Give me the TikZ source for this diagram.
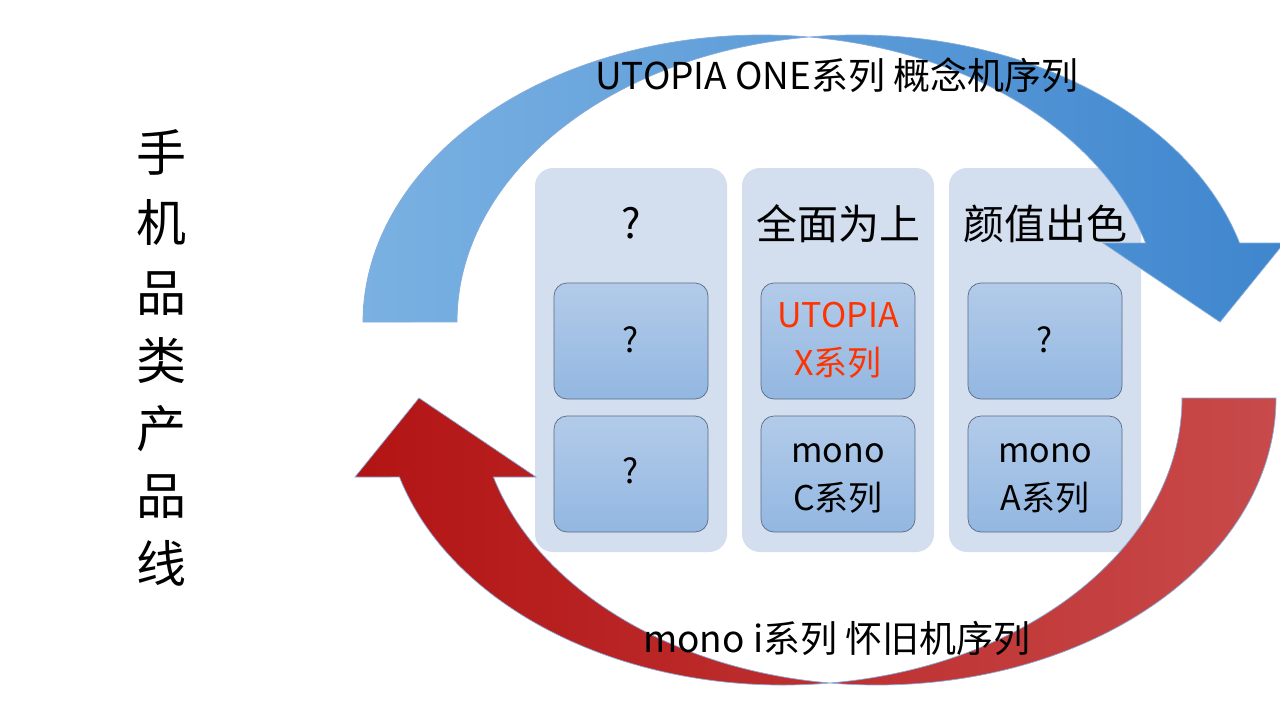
\documentclass[tikz,border=0pt]{standalone}
\usepackage{fontspec}
\setmainfont{Noto Sans CJK SC}
\definecolor{colbg}{HTML}{D3DEEF}
\definecolor{itemtop}{HTML}{B2CBE9}
\definecolor{itembot}{HTML}{93B7E1}
\definecolor{boxedge}{HTML}{5B6C84}
\definecolor{bluel}{HTML}{7AB1E2}
\definecolor{bluer}{HTML}{3F86CE}
\definecolor{redl}{HTML}{B31414}
\definecolor{redm}{HTML}{D02A2A}
\definecolor{redr}{HTML}{C84A4A}
\definecolor{arrowedge}{HTML}{86ACDB}
\definecolor{hot}{HTML}{FF3300}
\tikzset{
  colbox/.style={fill=colbg, rounded corners=18pt, minimum width=192pt, minimum height=384pt, inner sep=0pt},
  itembox/.style={draw=boxedge, line width=0.7pt, top color=itemtop, bottom color=itembot, rounded corners=13pt, minimum width=154pt, minimum height=116pt, inner sep=0pt},
  lbl/.style={anchor=base, inner sep=0pt, text=black},
  titletext/.style={lbl, font=\fontsize{37}{44}\selectfont},
  headtext/.style={lbl, font=\fontsize{41}{48}\selectfont},
  itemtext/.style={lbl, font=\fontsize{34}{40}\selectfont},
  verttext/.style={lbl, font=\fontsize{50}{60}\selectfont},
  arrowedge/.style={draw=arrowedge, line width=0.7pt},
}
\newcommand{\curvedarrowpath}{%
  (363,322) arc[start angle=180, end angle=276.765, x radius=399, y radius=287]
  arc[start angle=263.235, end angle=344.023, x radius=399, y radius=287]
  -- (1284,243) -- (1220,322) -- (1103,243) -- (1145.6,243)
  arc[start angle=344.023, end angle=276.765, x radius=399, y radius=287]
  arc[start angle=263.235, end angle=180, x radius=399, y radius=287]
  -- cycle}
\begin{document}
\begin{tikzpicture}[x=1pt,y=-1pt]
\useasboundingbox[fill=white] (0,0) rectangle (1280,720);

% columns
\node[colbox] (c1) at (631,360) {};
\node[colbox] (c2) at (838,360) {};
\node[colbox] (c3) at (1045,360) {};

% item boxes
\node[itembox] (b11) at (631,341) {};
\node[itembox] (b12) at (631,474) {};
\node[itembox] (b21) at (838,341) {};
\node[itembox] (b22) at (838,474) {};
\node[itembox] (b31) at (1045,341) {};
\node[itembox] (b32) at (1045,474) {};

% blue arrow
\path[arrowedge, left color=bluel, right color=bluer] \curvedarrowpath;
% red arrow (rotated copy)
\begin{scope}[rotate around={180:(819.5,360)}]
\path[arrowedge, left color=redl, middle color=redm, right color=redr] \curvedarrowpath;
\end{scope}

% headers
\node[headtext] (h1) at (631,238) {?};
\node[headtext] (h2) at (838,239) {全面为上};
\node[headtext] (h3) at (1045,239) {颜值出色};

% item texts
\node[itemtext] (t11) at (631,352) {?};
\node[itemtext] (t12) at (631,483) {?};
\node[itemtext, text=hot] (t21a) at (838,327) {UTOPIA};
\node[itemtext, text=hot] (t21b) at (838,375) {X系列};
\node[itemtext] (t22a) at (838,462) {mono};
\node[itemtext] (t22b) at (838,510) {C系列};
\node[itemtext] (t31) at (1045,352) {?};
\node[itemtext] (t32a) at (1045,462) {mono};
\node[itemtext] (t32b) at (1045,510) {A系列};

% titles
\node[titletext] (top) at (837,89) {UTOPIA ONE系列 概念机序列};
\node[titletext] (bottom) at (837,652) {mono i系列 怀旧机序列};

% vertical label
\node[verttext] (v1) at (161,171) {手};
\node[verttext] (v2) at (161,241) {机};
\node[verttext] (v3) at (161,311) {品};
\node[verttext] (v4) at (161,379) {类};
\node[verttext] (v5) at (161,447) {产};
\node[verttext] (v6) at (161,514) {品};
\node[verttext] (v7) at (161,582) {线};
\end{tikzpicture}
\end{document}
